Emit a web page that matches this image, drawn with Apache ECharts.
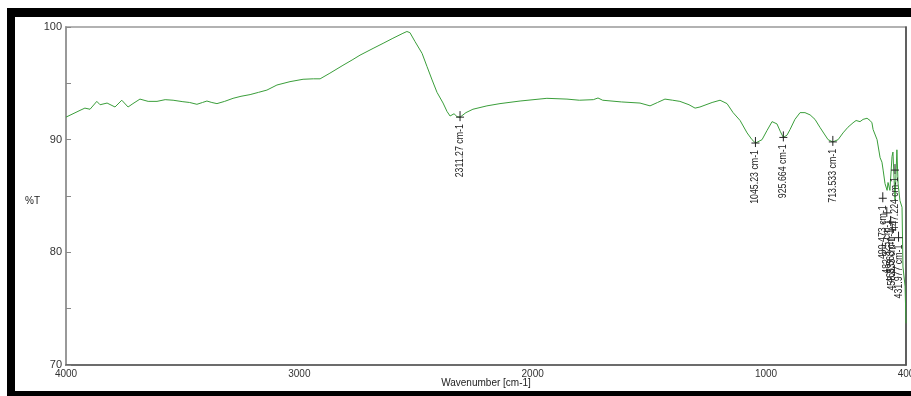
<!DOCTYPE html>
<html>
<head>
<meta charset="utf-8">
<script src="https://cdn.jsdelivr.net/npm/echarts@6/dist/echarts.min.js"></script>
<style>
html,body{margin:0;padding:0;background:#fff;}
#chart{width:911px;height:396px;}
</style>
</head>
<body>
<div id="chart"></div>
<script>
// Wavenumber (cm-1) and transmittance (%T)
const wavenumbers = [4000,3970,3940,3919,3897,3868,3854,3824,3790,3761,3734,3713,3683,3648,3610,3575,3541,3499,3470,3439,3415,3396,3375,3353,3320,3284,3250,3211,3175,3139,3096,3040,2984,2940,2911,2869,2813,2774,2740,2684,2641,2599,2556,2539,2526,2504,2474,2453,2431,2410,2384,2367,2354,2337,2324,2311,2303,2286,2256,2196,2140,2054,1939,1853,1800,1740,1720,1700,1620,1540,1497,1465,1433,1400,1369,1330,1304,1283,1231,1197,1167,1141,1111,1081,1060,1045,1017,996,974,966,953,938,926,910,897,876,854,833,811,790,769,750,734,714,691,670,649,627,614,597,584,567,563,554,546,541,524,511,503,498,490,481,477,469,460,456,447,439,434,426,417,413,404,400];
const transmittance = [92.0,92.3,92.6,92.8,92.7,93.4,93.1,93.25,92.9,93.5,92.9,93.2,93.6,93.4,93.4,93.55,93.5,93.37,93.3,93.14,93.3,93.43,93.3,93.2,93.4,93.67,93.85,94.0,94.2,94.4,94.85,95.15,95.36,95.4,95.4,95.9,96.6,97.07,97.5,98.1,98.55,99.0,99.44,99.6,99.5,98.7,97.66,96.5,95.3,94.2,93.25,92.5,92.1,92.3,92.04,92.0,92.1,92.4,92.7,93.0,93.2,93.43,93.67,93.6,93.5,93.55,93.7,93.5,93.35,93.25,93.0,93.3,93.6,93.5,93.4,93.1,92.8,92.9,93.3,93.5,93.2,92.4,91.7,90.6,90.0,89.7,90.0,90.8,91.6,91.7,91.4,90.7,90.2,90.4,90.9,91.8,92.4,92.4,92.2,91.8,91.1,90.5,90.0,89.8,90.0,90.6,91.1,91.5,91.7,91.6,91.8,91.9,92.0,91.7,91.5,90.9,90.0,88.4,88.0,87.3,86.1,85.5,86.2,85.5,88.5,88.9,84.6,89.1,86.1,84.6,84.0,78.7,77.0,73.7];

// Peak annotations
const peakLabels = ["2311.27 cm-1","1045.23 cm-1","925.664 cm-1","713.533 cm-1","499.473 cm-1","482.325 cm-1","465.563 cm-1","458.833 cm-1","447.224 cm-1","431.977 cm-1"];
const peakWavenumbers = [2311.27,1045.23,925.664,713.533,499.473,482.325,465.563,458.833,447.224,431.977];
const peakValues = [92.0,89.7,90.2,89.8,84.8,83.5,82.7,82.0,87.3,81.3];

// Axis tick labels
const xTickLabels = [4000,3000,2000,1000,400];
const yTickLabels = [100,90,80,70];

const lineData = wavenumbers.map((w,i)=>[w, transmittance[i]]);
const peakData = peakWavenumbers.map((w,i)=>[w, peakValues[i]]);

const chart = echarts.init(document.getElementById('chart'), null, {renderer:'canvas'});
const labelFont = "11px 'Liberation Sans', Arial, sans-serif";

chart.setOption({
  animation:false,
  backgroundColor:'#fff',
  grid:{left:66, top:27, right:5, bottom:31, show:true, borderColor:'#999', borderWidth:1.5,
        containLabel:false, outerBoundsMode:'none'},
  xAxis:{
    type:'value', min:400, max:4000, interval:200, inverse:true,
    axisLine:{show:true, lineStyle:{color:'#555', width:1.5}},
    axisTick:{show:false},
    splitLine:{show:false},
    axisLabel:{
      margin:4, color:'#333', fontSize:10, fontFamily:"'Liberation Sans', Arial, sans-serif",
      showMinLabel:true, showMaxLabel:true, hideOverlap:false,
      formatter:v=> xTickLabels.indexOf(v)>=0 ? String(v) : ''
    },
    name:'Wavenumber [cm-1]', nameLocation:'middle', nameGap:13, nameMoveOverlap:false,
    nameTextStyle:{color:'#222', fontSize:10, fontFamily:"'Liberation Sans', Arial, sans-serif"}
  },
  yAxis:[{
    type:'value', min:70, max:100, interval:5,
    axisLine:{show:true, lineStyle:{color:'#999', width:2}},
    axisTick:{show:true, inside:true, length:5, lineStyle:{color:'#888'}},
    splitLine:{show:false},
    axisLabel:{
      margin:4, color:'#333', fontSize:11, fontFamily:"'Liberation Sans', Arial, sans-serif",
      formatter:v=> yTickLabels.indexOf(v)>=0 ? String(v) : ''
    }
  },{
    type:'value', min:70, max:100, position:'right',
    axisLine:{show:true, lineStyle:{color:'#444', width:1.5}},
    axisTick:{show:false}, axisLabel:{show:false}, splitLine:{show:false}
  }],
  graphic:[
    {type:'rect', shape:{x:7, y:8, width:904, height:9}, style:{fill:'#000'}, silent:true},
    {type:'rect', shape:{x:7, y:8, width:8, height:388}, style:{fill:'#000'}, silent:true},
    {type:'rect', shape:{x:7, y:391, width:904, height:5}, style:{fill:'#000'}, silent:true},
    {type:'text', x:25, y:196, style:{text:'%T', fill:'#222', font:"10px 'Liberation Sans', Arial, sans-serif"}, silent:true}
  ],
  series:[{
    type:'line', data:lineData, showSymbol:false, symbol:'none',
    lineStyle:{color:'#3a9e3a', width:1}, z:3
  },{
    type:'custom', data:peakData, z:4, clip:false,
    renderItem:(params, api)=>{
      const p = api.coord([api.value(0), api.value(1)]);
      return {type:'group', children:[
        {type:'line', shape:{x1:p[0], y1:p[1]-6, x2:p[0], y2:p[1]+4}, style:{stroke:'#222', lineWidth:1}},
        {type:'line', shape:{x1:p[0]-4, y1:p[1], x2:p[0]+4, y2:p[1]}, style:{stroke:'#222', lineWidth:1}},
        {type:'text', x:p[0], y:p[1]+7, rotation:Math.PI/2, scaleX:0.8, scaleY:1,
          style:{text:peakLabels[params.dataIndex], align:'right', verticalAlign:'middle', fill:'#222', font:labelFont}}
      ]};
    }
  }]
});
</script>
</body>
</html>
